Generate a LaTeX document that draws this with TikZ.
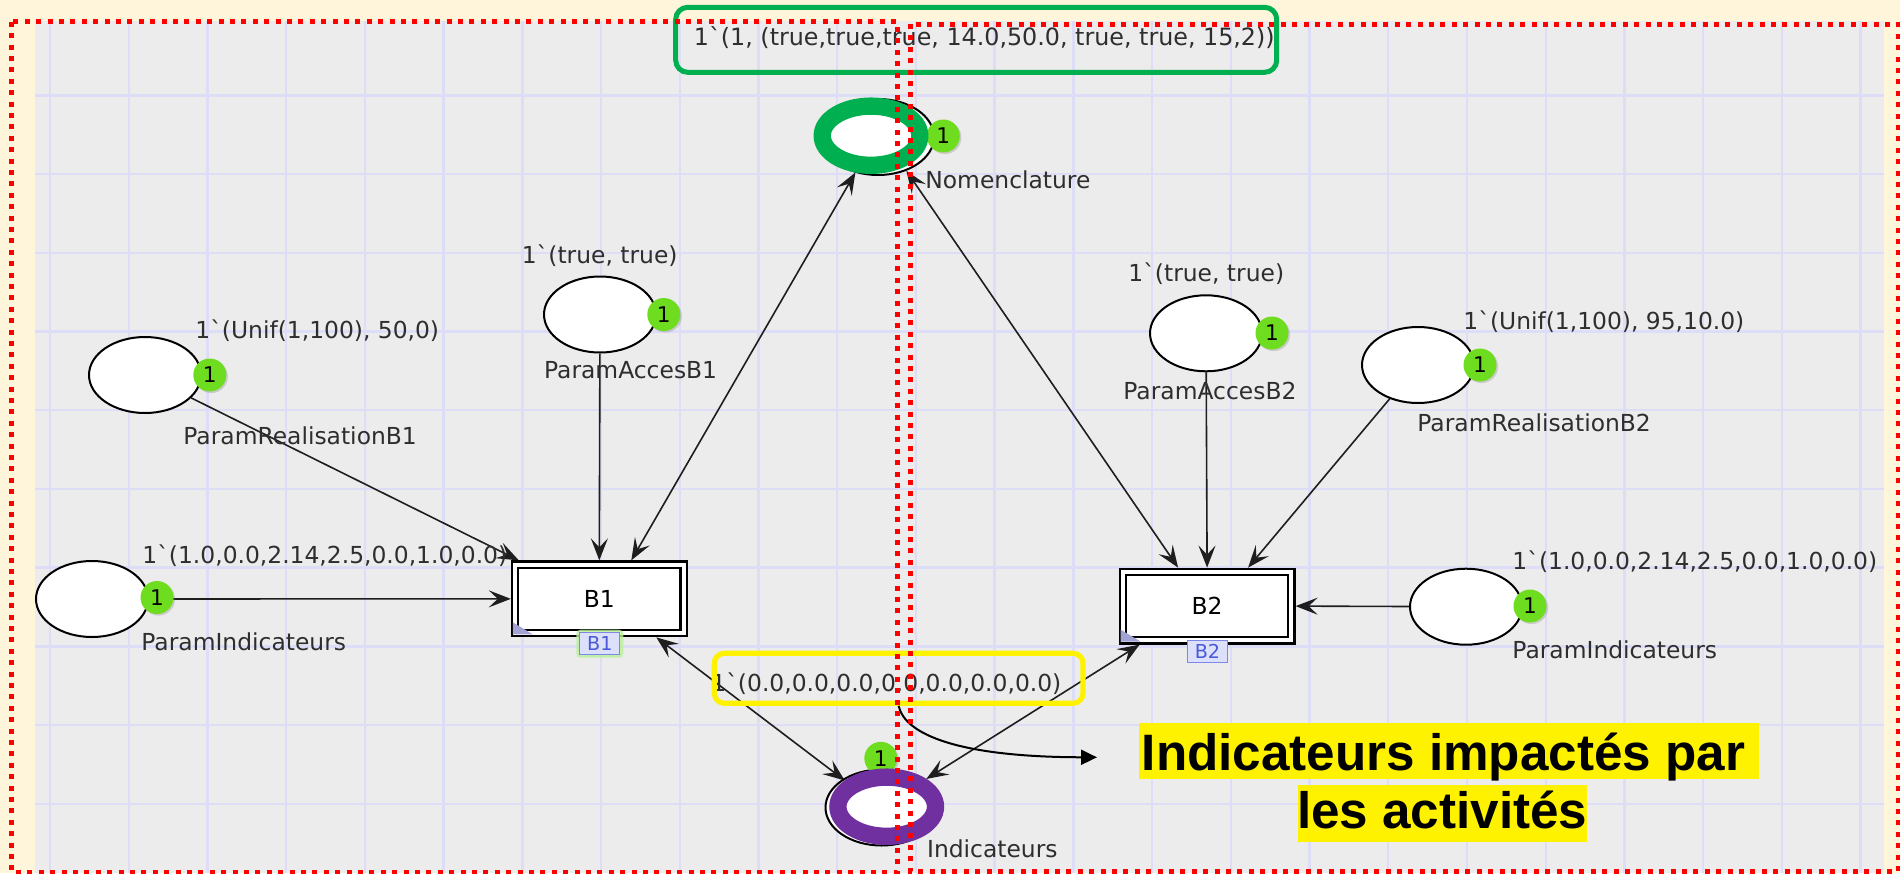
\documentclass[tikz,border=0pt]{standalone}
\usepackage{fontspec}
\usetikzlibrary{arrows.meta,calc,shapes.geometric,shadows}

% fonts: raw XeTeX fonts keep the backquote of CPN markings as a real grave accent
\font\cpnf="DejaVu Sans" at 11.7pt
\font\cpnbox="DejaVu Sans" at 11.9pt
\font\tokf="DejaVu Sans" at 10.8pt
\font\tagf="DejaVu Sans" at 9.6pt
\newfontfamily\hlfont{Liberation Sans}

\definecolor{cream}{HTML}{FFF5DA}
\definecolor{canvasgray}{HTML}{ECECEC}
\definecolor{gridblue}{HTML}{DDDDF7}
\definecolor{tokgreen}{HTML}{6FDD1F}
\definecolor{hlgreen}{HTML}{00B050}
\definecolor{hlpurple}{HTML}{7030A0}
\definecolor{arcgray}{HTML}{1E1E1E}
\definecolor{tagfill}{HTML}{DCE0FA}
\definecolor{tagline}{HTML}{7B88E8}
\definecolor{tagtext}{HTML}{4A5AD8}
\definecolor{lavender}{HTML}{A3A3D3}
\definecolor{glowgreen}{HTML}{B8F09A}

\pgfdeclarelayer{bg}
\pgfdeclarelayer{arcs}
\pgfdeclarelayer{front}
\pgfsetlayers{bg,arcs,main,front}

\tikzset{
  cpn/.tip={Stealth[length=11pt,width=8.5pt,inset=4.5pt]},
  place/.style={ellipse, draw=black, line width=1pt, fill=white,
    minimum width=56pt, minimum height=38pt, inner sep=0pt},
  ring/.style={ellipse, line width=8.65pt, inner sep=0pt, outer sep=4.325pt,
    minimum width=48.8pt, minimum height=29.6pt},
  token/.style={circle, fill=tokgreen, minimum size=16.5pt, inner sep=0pt,
    font=\tokf, drop shadow={shadow xshift=0.8pt, shadow yshift=-0.8pt, opacity=0.3}},
  trans/.style={rectangle, draw=black, line width=1.1pt, double=white,
    double distance=2pt, fill=white, outer sep=2.1pt,
    minimum width=84.3pt, minimum height=34.3pt, inner sep=0pt, font=\cpnf},
  tag/.style={rectangle, draw=tagline, fill=tagfill, line width=0.6pt,
    minimum width=20pt, minimum height=11pt, inner sep=0pt, font=\tagf, text=tagtext},
  lbl/.style={anchor=west, inner sep=0pt, font=\cpnf, text=black!82},
  arc/.style={draw=arcgray, line width=0.8pt, -cpn},
  biarc/.style={draw=arcgray, line width=0.8pt, cpn-cpn},
  gridline/.style={draw=gridblue, line width=1.2pt},
  reddots/.style={draw=red, line width=2.5pt, dash pattern=on 2.5pt off 3.2pt},
  bigl/.style={font=\hlfont\bfseries\fontsize{25.6pt}{30pt}\selectfont, inner sep=0pt}
}

\begin{document}
\begin{tikzpicture}[x=0.5pt,y=-0.5pt]
\useasboundingbox (0,0) rectangle (1900,873);

% editor canvas with its grid
\begin{pgfonlayer}{bg}
  \fill[cream] (0,0) rectangle (1900,873);
  \fill[canvasgray] (35,21) rectangle (1884,873);
  \foreach \k in {0,...,23}
    \draw[gridline] ({50+78.72*\k},21) -- ({50+78.72*\k},873);
  \foreach \k in {0,...,9}
    \draw[gridline] (35,{95.3+78.72*\k}) -- (1884,{95.3+78.72*\k});
\end{pgfonlayer}

% places
\node[place] (prb1) at (145,375) {};
\node[place] (pab1) at (600,314.5) {};
\node[place] (pil)  at (92,599) {};
\node[place] (nom)  at (878,137) {};
\node[place] (ind)  at (881.5,807.5) {};
\node[place] (pab2) at (1206,333.3) {};
\node[place] (prb2) at (1418,365) {};
\node[place] (pir)  at (1466,606.7) {};

% tokens
\node[token] (tprb1) at (209.8,375) {1};
\node[token] (tpab1) at (663.8,314.5) {1};
\node[token] (tpil)  at (157,597.5) {1};
\node[token] (tnom)  at (943.3,136) {1};
\node[token] (tind)  at (880.8,758.3) {1};
\node[token] (tpab2) at (1272,333) {1};
\node[token] (tprb2) at (1480,365) {1};
\node[token] (tpir)  at (1530,606) {1};

% highlighted places
\node[ring, draw=hlgreen] (nomr) at (871,135.7) {};
\node[ring, draw=hlpurple] (indr) at (886.7,806.7) {};

% transitions
\node[trans] (b1) at (599.3,598.85) {B1};
\node[trans] (b2) at (1207.1,606.1) {B2};
\fill[lavender] ($(b1.south west)+(2,-3)$) -- ++(0,-12) -- ++(20,12) -- cycle;
\fill[lavender] ($(b2.south west)+(2,-3)$) -- ++(0,-12) -- ++(20,12) -- cycle;
\node[tag, draw=none, fill=glowgreen, opacity=0.8, minimum width=23.5pt,
  minimum height=14pt, rounded corners=2pt] (glow1) at (599.8,643.7) {};
\node[tag] (tag1) at (599.8,643.7) {B1};
\node[tag] (tag2) at (1207.5,651.3) {B2};

% inscriptions
\node[lbl] (iprb1) at (195,330.7) {1`(Unif(1,100), 50,0)};
\node[lbl] (nprb1) at (183,436) {ParamRealisationB1};
\node[lbl] (ipab1) at (521.4,256) {1`(true, true)};
\node[lbl] (npab1) at (543.7,370) {ParamAccesB1};
\node[lbl] (ipil)  at (142,556) {1`(1.0,0.0,2.14,2.5,0.0,1.0,0.0)};
\node[lbl] (npil)  at (141,641.7) {ParamIndicateurs};
\node[lbl] (nnom)  at (925,180) {Nomenclature};
\node[lbl] (nind)  at (926.7,848.3) {Indicateurs};
\node[lbl] (ipab2) at (1128,274) {1`(true, true)};
\node[lbl] (npab2) at (1123,390.7) {ParamAccesB2};
\node[lbl] (iprb2) at (1463,321.7) {1`(Unif(1,100), 95,10.0)};
\node[lbl] (nprb2) at (1417,422.7) {ParamRealisationB2};
\node[lbl] (ipir)  at (1512,561.7) {1`(1.0,0.0,2.14,2.5,0.0,1.0,0.0)};
\node[lbl] (npir)  at (1512,650) {ParamIndicateurs};
\node[lbl, font=\cpnbox] (inom) at (693.5,38) {1`(1, (true,true,true, 14.0,50.0, true, true, 15,2))};
\node[lbl] (iind) at (711,684) {1`(0.0,0.0,0.0,0.0,0.0,0.0,0.0)};

% arcs
\begin{pgfonlayer}{arcs}
  \draw[arc] (prb1) -- ($(b1.north west)+(8,0)$);
  \draw[arc] (pil) -- (b1.west);
  \draw[arc] (pab1) -- (b1.north);
  \draw[biarc] ($(b1.north)+(32,0)$) -- (nomr.247);
  \draw[biarc] (nom.310) -- ($(b2.north)+(-29,0)$);
  \draw[arc] (pab2) -- (b2.north);
  \draw[arc] (prb2) -- ($(b2.north)+(41,0)$);
  \draw[arc] (pir) -- (b2.east);
  \draw[biarc] ($(b1.south)+(57,0)$) -- (indr.148);
  \draw[biarc] ($(b2.south west)+(21,0)$) -- (indr.35);
\end{pgfonlayer}

% annotations
\begin{pgfonlayer}{front}
  \node[draw=hlgreen, line width=2.5pt, rounded corners=6pt, minimum width=300.5pt,
    minimum height=32.5pt, inner sep=0pt] (gbox) at (976.2,39.8) {};
  \node[draw=yellow, line width=2.6pt, rounded corners=5pt, minimum width=184.35pt,
    minimum height=25pt, inner sep=0pt] (ybox) at (898.65,678.3) {};
  \coordinate (noteptr) at (1097,757.3);
  \draw[black, line width=1pt, -{Triangle[length=8pt,width=7.5pt]}]
    (ybox.south) .. controls (905,735) and (960,757) .. (noteptr);
  \fill[yellow] (1139.4,723.3) rectangle (1758.5,779.3);
  \fill[yellow] (1297.7,785) rectangle (1586.7,841.7);
  \node[bigl, anchor=base] (note1) at (1443.5,770) {Indicateurs impactés par};
  \node[bigl, anchor=base] (note2) at (1442.2,828.3) {les activités};
  % frames of the two halves
  \draw[reddots] (11.3,21.7) rectangle (897.3,872);
  \draw[reddots] (910.7,24) rectangle (1898,871.5);
\end{pgfonlayer}
\end{tikzpicture}
\end{document}
